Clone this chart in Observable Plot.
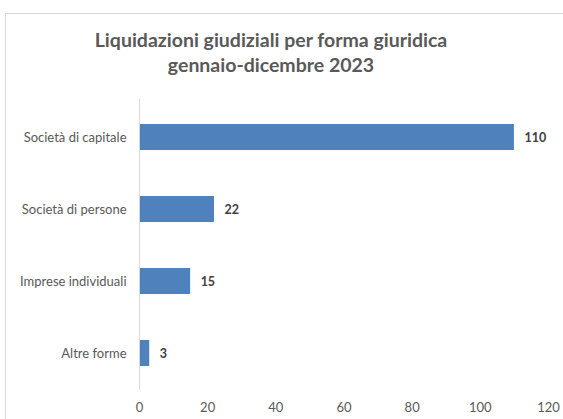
<!DOCTYPE html>
<html>
<head>
<meta charset="utf-8">
<script src="https://cdn.jsdelivr.net/npm/d3@7"></script>
<script src="https://cdn.jsdelivr.net/npm/@observablehq/plot@0.6"></script>
<style>
  html, body { margin: 0; padding: 0; background: #fff; overflow: hidden; }
  #wrap { position: relative; width: 563px; height: 419px; overflow: hidden; background: #fff; }
  #frame { position: absolute; left: 5px; top: 13px; width: 600px; height: 450px; border: 1px solid #d9d9d9; box-sizing: border-box; }
  #title { position: absolute; left: 0; width: 542px; top: 27px; text-align: center; font-family: Lato, "Open Sans", sans-serif; font-weight: bold; font-size: 19.5px; line-height: 25px; color: #595959; }
  #chart { position: absolute; left: 0; top: 85px; }
</style>
</head>
<body>
<div id="wrap">
  <div id="frame"></div>
  <div id="title">Liquidazioni giudiziali per forma giuridica<br>gennaio-dicembre 2023</div>
  <div id="chart"></div>
</div>
<script>
const categories = ["Società di capitale", "Società di persone", "Imprese individuali", "Altre forme"];
const values = [110, 22, 15, 3];
const xTicks = [0, 20, 40, 60, 80, 100, 120];

const data = categories.map((c, i) => ({category: c, value: values[i]}));

const chart = Plot.plot({
  width: 563,
  height: 334,
  marginTop: 14,
  marginBottom: 29,
  marginLeft: 139,
  marginRight: 15,
  style: {fontFamily: "Lato, 'Open Sans', sans-serif", fontSize: "13px", color: "#595959", background: "transparent"},
  x: {domain: [0, 120], ticks: xTicks, label: null, tickSize: 0, tickPadding: 12},
  y: {domain: categories, label: null, tickSize: 0, tickPadding: 13, paddingInner: 0.64, paddingOuter: 0.32},
  marks: [
    Plot.barX(data, {y: "category", x: "value", fill: "#4f81bd"}),
    Plot.ruleX([0], {stroke: "#d9d9d9"}),
    Plot.text(data, {y: "category", x: "value", text: d => String(d.value), textAnchor: "start", dx: 10, fontWeight: "bold", fontSize: 12.5, fill: "#404040"})
  ]
});
document.getElementById("chart").appendChild(chart);
</script>
</body>
</html>
